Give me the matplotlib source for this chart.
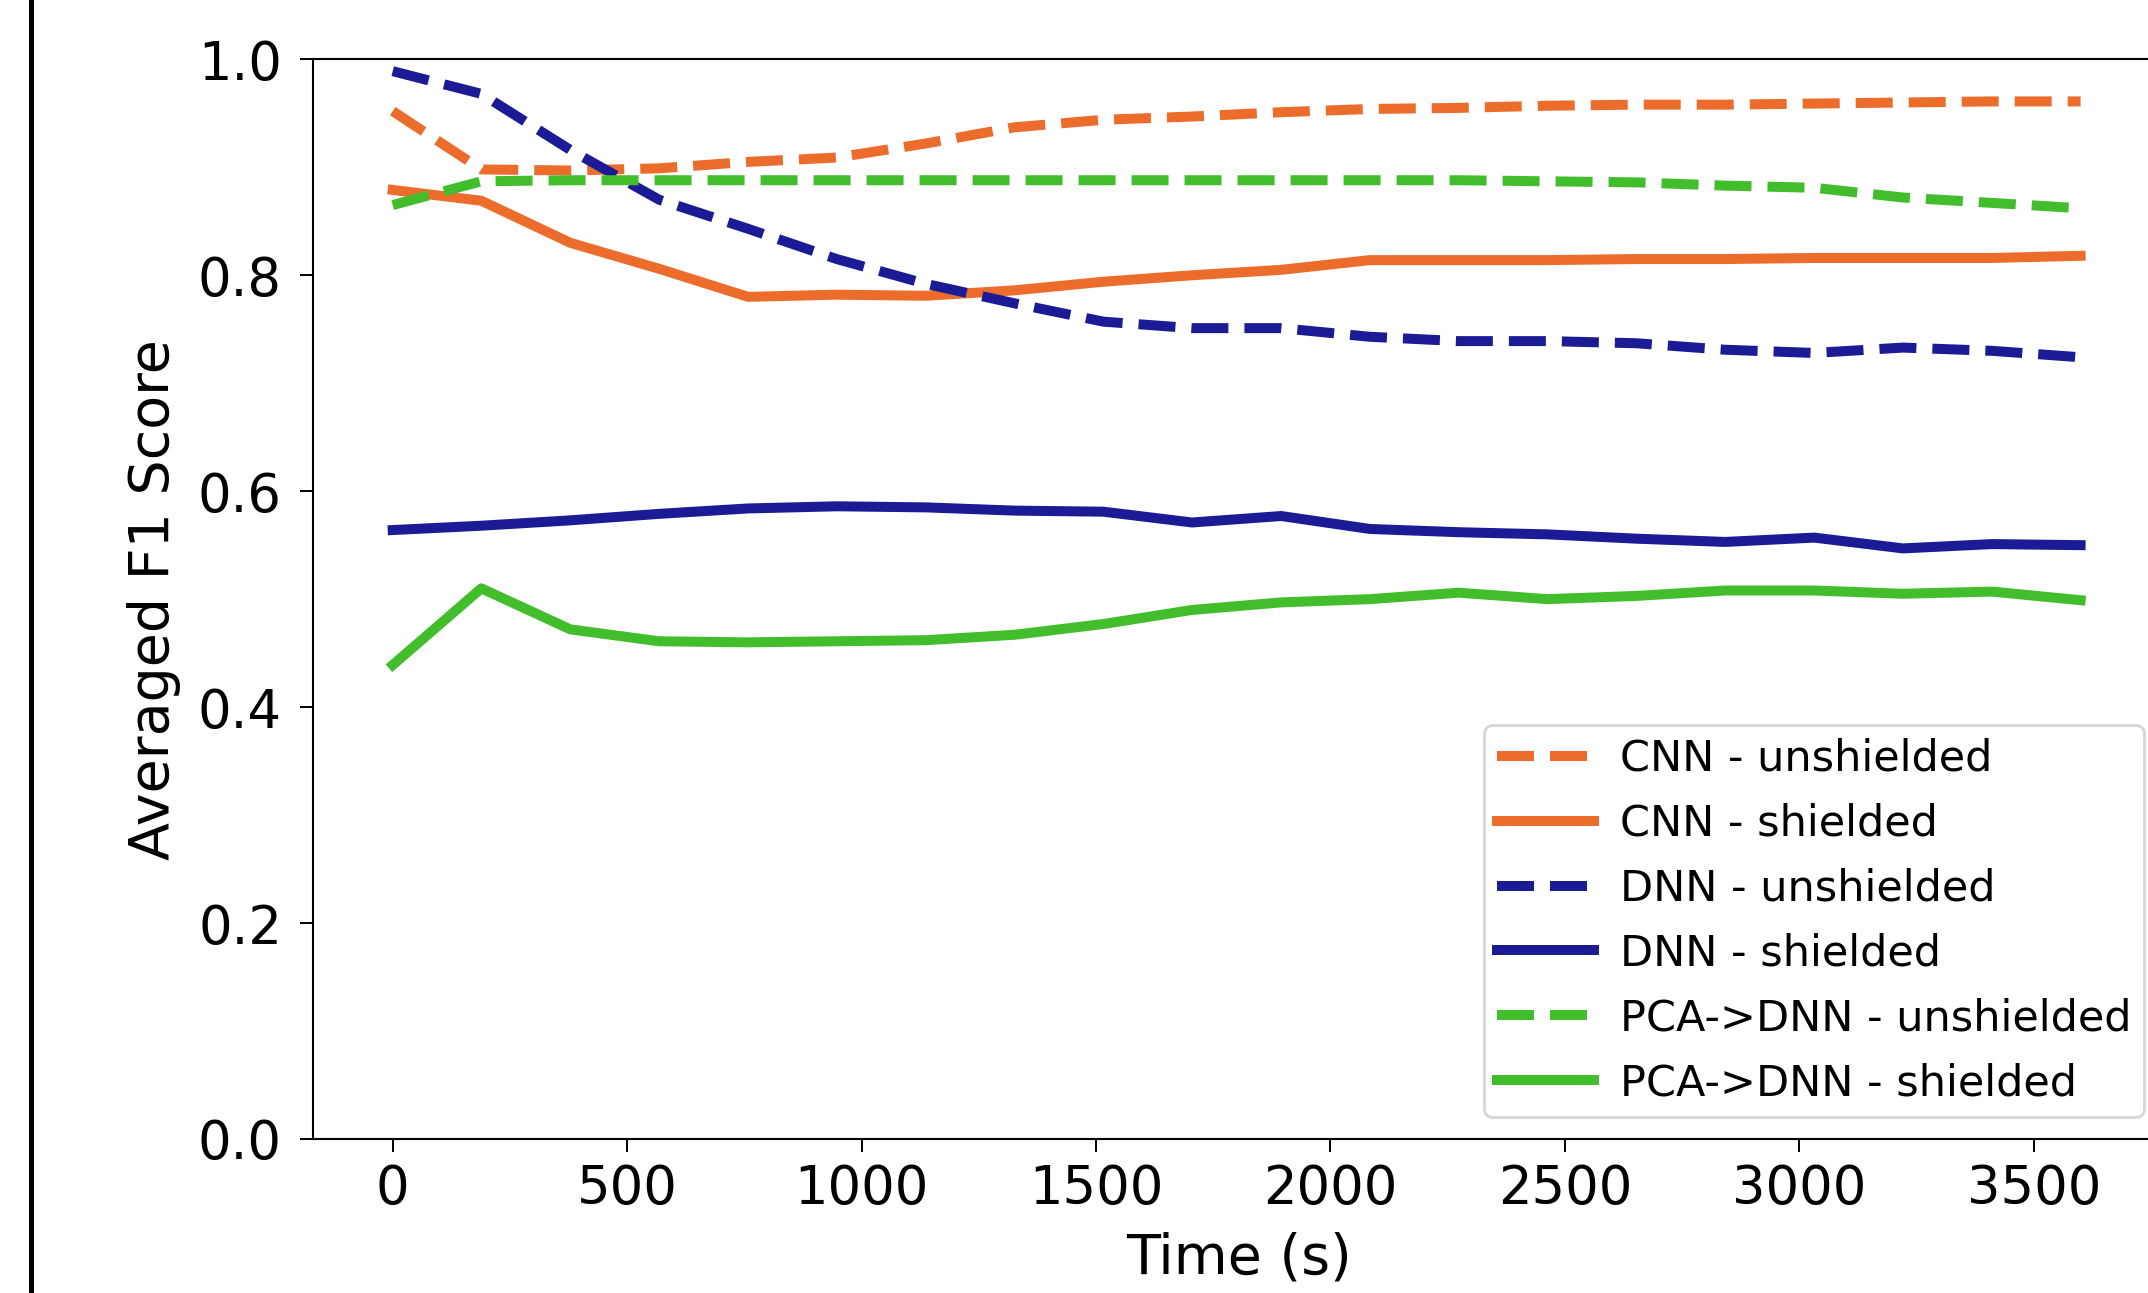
import matplotlib
matplotlib.use('Agg')
import matplotlib.pyplot as plt
from matplotlib.patches import Rectangle

# Time axis (s)
time_s = [0, 189, 379, 568, 758, 947, 1137, 1326, 1516, 1705,
          1895, 2084, 2274, 2463, 2653, 2842, 3032, 3221, 3411, 3600]

# Averaged F1 scores
cnn_unshielded = [0.952, 0.898, 0.897, 0.899, 0.905, 0.909, 0.922, 0.937, 0.944, 0.947,
                  0.951, 0.954, 0.955, 0.957, 0.958, 0.958, 0.959, 0.960, 0.961, 0.961]
cnn_shielded   = [0.879, 0.869, 0.830, 0.806, 0.780, 0.782, 0.781, 0.786, 0.794, 0.800,
                  0.805, 0.814, 0.814, 0.814, 0.815, 0.815, 0.816, 0.816, 0.816, 0.818]
dnn_unshielded = [0.989, 0.968, 0.916, 0.870, 0.843, 0.815, 0.792, 0.774, 0.757, 0.751,
                  0.751, 0.743, 0.739, 0.739, 0.737, 0.731, 0.728, 0.733, 0.730, 0.724]
dnn_shielded   = [0.564, 0.568, 0.573, 0.579, 0.584, 0.586, 0.585, 0.582, 0.581, 0.571,
                  0.577, 0.565, 0.562, 0.560, 0.556, 0.553, 0.557, 0.547, 0.551, 0.550]
pca_unshielded = [0.865, 0.887, 0.888, 0.888, 0.888, 0.888, 0.888, 0.888, 0.888, 0.888,
                  0.888, 0.888, 0.888, 0.887, 0.886, 0.883, 0.881, 0.872, 0.867, 0.862]
pca_shielded   = [0.439, 0.510, 0.472, 0.461, 0.460, 0.461, 0.462, 0.467, 0.477, 0.490,
                  0.497, 0.500, 0.506, 0.500, 0.503, 0.508, 0.508, 0.505, 0.507, 0.499]

labels = ['CNN - unshielded', 'CNN - shielded',
          'DNN - unshielded', 'DNN - shielded',
          'PCA->DNN - unshielded', 'PCA->DNN - shielded']
xticks = [0, 500, 1000, 1500, 2000, 2500, 3000, 3500]
yticks = [0.0, 0.2, 0.4, 0.6, 0.8, 1.0]

orange = '#EC6C2C'
blue = '#1B1B96'
green = '#42BE2D'

W, H = 2148, 1293
fig = plt.figure(figsize=(W/100, H/100), dpi=100)
# axes extends a little past the right edge, like the cropped original
ax = fig.add_axes([313/W, (H-1139)/H, 1852/W, (1139-59.3)/H])

lw = 7.2
ax.plot(time_s, cnn_unshielded, color=orange, linestyle='--', lw=lw, label=labels[0])
ax.plot(time_s, cnn_shielded, color=orange, linestyle='-', lw=lw, label=labels[1])
ax.plot(time_s, dnn_unshielded, color=blue, linestyle='--', lw=lw, label=labels[2])
ax.plot(time_s, dnn_shielded, color=blue, linestyle='-', lw=lw, label=labels[3])
ax.plot(time_s, pca_unshielded, color=green, linestyle='--', lw=lw, label=labels[4])
ax.plot(time_s, pca_shielded, color=green, linestyle='-', lw=lw, label=labels[5])

ax.set_xlim(-170, 3780)
ax.set_ylim(0.0, 1.0)
ax.set_xticks(xticks)
ax.set_xticklabels([str(x) for x in xticks])
ax.set_yticks(yticks)
ax.set_yticklabels(['{:.1f}'.format(y) for y in yticks])
ax.tick_params(axis='both', labelsize=38, length=9.4, width=1.4)
ax.tick_params(axis='y', pad=13)
ax.tick_params(axis='x', pad=8)
for s in ax.spines.values():
  s.set_linewidth(1.5)

ax.set_xlabel('Time (s)', fontsize=40, labelpad=12)
ax.set_ylabel('Averaged F1 Score', fontsize=40, labelpad=12)

leg = ax.legend(loc='lower right', bbox_to_anchor=(2144/W, (H-1117)/H),
                bbox_transform=fig.transFigure, borderaxespad=0,
                fontsize=31, handlelength=2.25, handletextpad=0.6,
                borderpad=0.3, labelspacing=0.53)
leg.get_frame().set_linewidth(2)

# thin black bar on the left edge of the original image
fig.patches.append(Rectangle((29/W, 0), 5/W, 1, transform=fig.transFigure,
                             facecolor='black', edgecolor='none'))

fig.savefig('out.png', dpi=100)
plt.close(fig)
